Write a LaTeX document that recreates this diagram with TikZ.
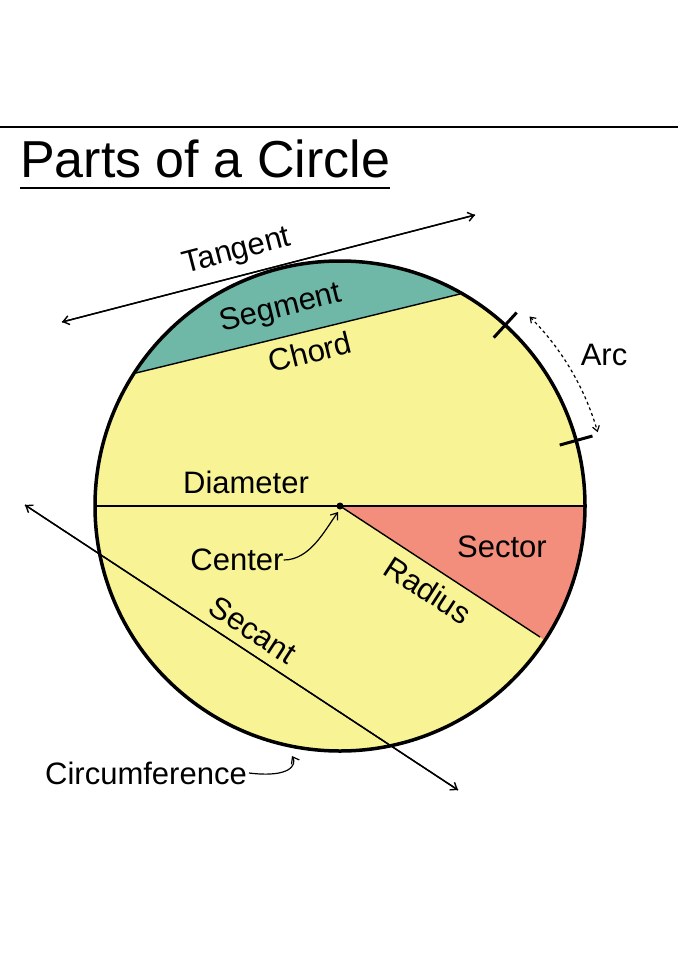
\documentclass[tikz,border=0pt]{standalone}
\usepackage{fontspec}
\setmainfont{Liberation Sans}
\usetikzlibrary{arrows.meta,calc}
\begin{document}
\begin{tikzpicture}[x=1pt,y=-1pt,
  lbl/.style={font=\fontsize{31}{34}\selectfont, inner sep=0pt},
  thin/.style={line width=1.4pt},
  arr/.style={-{Straight Barb[length=6pt,width=9pt]}}]
\useasboundingbox (0,0) rectangle (678,960);
\fill[white] (0,0) rectangle (678,960);
\coordinate (c) at (340,506);
\draw[line width=1.5pt] (0,127) -- (678,127);
\node[font=\fontsize{52}{56}\selectfont, anchor=base west, inner sep=0pt] (title) at (20,178) {Parts of a Circle};
\draw[line width=1.5pt] (20,188) -- (390,188);
% fills
\fill[fill={rgb,255:red,248;green,244;blue,150}] (c) circle[radius=245];
\begin{scope}
\clip (c) circle[radius=245];
\fill[fill={rgb,255:red,111;green,184;blue,168}] (136,373) -- (460,294) -- (600,200) -- (80,200) -- cycle;
\fill[fill={rgb,255:red,243;green,142;blue,124}] (c) -- (700,506) -- (700,742) -- cycle;
\end{scope}
\coordinate (ch1) at (136,373); \coordinate (ch2) at (460,294);
\draw[thin] (ch1) -- (ch2);
\coordinate (d1) at (96,506); \coordinate (d2) at (585,506);
\draw[thin] (d1) -- (d2);
\coordinate (r2) at (540,637);
\draw[thin] (c) -- (r2);
\draw[line width=3.5pt] (c) circle[radius=245];
\fill (c) circle[radius=3.5];
% tangent
\coordinate (t1) at (62,322); \coordinate (t2) at (475,215);
\draw[thin, arr] (t1) -- (t2);
\draw[thin, arr] (t2) -- (t1);
% secant
\coordinate (s1) at (25,505); \coordinate (s2) at (458,790);
\draw[thin, arr] (s1) -- (s2);
\draw[thin, arr] (s2) -- (s1);
% arc ticks
\draw[line width=3pt] ($(c)+(-47.6:228)$) -- ($(c)+(-47.6:262)$);
\draw[line width=3pt] ($(c)+(-15.5:228)$) -- ($(c)+(-15.5:262)$);
\draw[line width=1.2pt, dashed, {Straight Barb[length=5pt,width=7pt]}-{Straight Barb[length=5pt,width=7pt]}] ($(c)+(-45:268)$) arc[start angle=-45, end angle=-16, radius=268];
% labels
\node[lbl, rotate=14.5] (tan) at (237,252) {Tangent};
\node[lbl, rotate=14] (seg) at (281,309) {Segment};
\node[lbl, rotate=14] (cho) at (310,352) {Chord};
\node[lbl] (arc) at (604,355) {Arc};
\node[lbl] (dia) at (246,482) {Diameter};
\node[lbl] (sec) at (502,547) {Sector};
\node[lbl, rotate=-33] (rad) at (428,590) {Radius};
\node[lbl, rotate=-33] (seca) at (253,630) {Secant};
\node[lbl] (cen) at (237,560) {Center};
\node[lbl] (circ) at (146,773) {Circumference};
\draw[line width=1.2pt, arr] (cen.east) .. controls (310,560) and (325,530) .. ($(c)+(-2,6)$);
\draw[line width=1.2pt, arr] ($(circ.east)+(2,0)$) .. controls (290,778) and (297,765) .. (292,756);
\end{tikzpicture}
\end{document}
